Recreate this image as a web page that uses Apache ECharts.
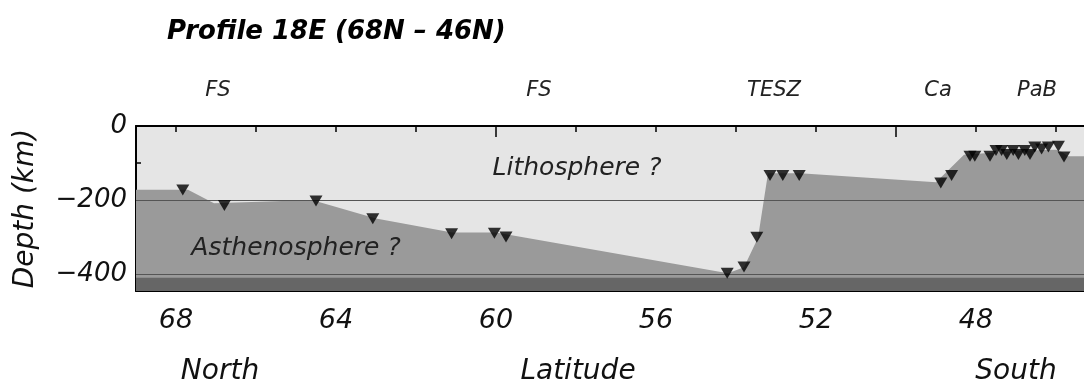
<!DOCTYPE html>
<html>
<head>
<meta charset="utf-8">
<script src="https://cdn.jsdelivr.net/npm/echarts@6/dist/echarts.min.js"></script>
<style>
html,body{margin:0;padding:0;background:#fff;}
#chart{width:1084px;height:390px;}
</style>
</head>
<body>
<div id="chart"></div>
<script>
// Lithosphere-asthenosphere boundary (latitude in degrees N, depth in km)
var boundaryLat   = [69, 67.7, 67.05, 64.6, 63.0, 61.1, 60.0, 54.2, 53.8, 53.45, 53.2, 52.4, 49.0, 48.3, 47.6, 46.8, 46.0, 45.85, 45.7, 45.3];
var boundaryDepth = [-172, -172, -209, -200, -250, -288, -288, -398, -382, -302, -128, -128, -152, -78, -72, -66, -64, -70, -82, -82];

// Stations (inverted triangles)
var stationLat   = [67.83, 66.79, 64.5, 63.08, 61.11, 60.04, 59.75, 54.22, 53.8, 53.48, 53.15, 52.83, 52.42, 48.88, 48.61, 48.15, 48.03, 47.65, 47.5, 47.36, 47.23, 47.07, 46.94, 46.78, 46.65, 46.53, 46.36, 46.19, 45.94, 45.8];
var stationDepth = [-173, -215, -203, -251, -291, -290, -300, -398, -381, -301, -134, -134, -134, -154, -134, -82, -82, -82, -66, -66, -77, -66, -77, -66, -77, -57, -62, -57, -55, -84];

// Axis ticks and labels
var xMinorTicks = [68, 66, 64, 62, 58, 56, 54, 52, 48, 46];
var xMajorTicks = [60, 50];
var xTickLabels = [68, 64, 60, 56, 52, 48];
var yTicks = [0, -100, -200, -300, -400];
var yTickLabels = [0, -200, -400];
var refDepths = [-200, -400];
var bandTop = -410;
var xMin = 45.3, xMax = 69, yMin = -446, yMax = 0;

// Text annotations
var titleText = 'Profile 18E (68N \u2013 46N)';
var regionNames = ['FS', 'FS', 'TESZ', 'Ca', 'PaB'];

var FONT = 'DejaVu Sans';
var chart = echarts.init(document.getElementById('chart'), null, {renderer: 'canvas'});

function xAxisDef(pos, ticks, len, withLine, withLabels) {
  return {
    type: 'value', min: xMin, max: xMax, inverse: true, position: pos,
    axisLine: {show: withLine, onZero: false, lineStyle: {color: '#000', width: 2}},
    axisTick: {show: true, inside: true, length: len, customValues: ticks, lineStyle: {color: '#000', width: 1.5}},
    axisLabel: withLabels ? {show: true, customValues: xTickLabels, margin: 16,
      fontFamily: FONT, fontStyle: 'italic', fontSize: 27, color: '#111'} : {show: false},
    splitLine: {show: false}
  };
}

function txt(text, x, y, size, opts) {
  opts = opts || {};
  return {
    type: 'text', x: x, y: y, z: 100,
    style: {
      text: text, textAlign: opts.align || 'center', textVerticalAlign: 'middle',
      fontStyle: 'italic', fontWeight: opts.weight || 'normal',
      fontSize: size, fontFamily: FONT,
      fill: opts.color || '#111'
    }
  };
}

var regionX = [218, 539, 774, 938, 1037];
var graphics = [
  txt(titleText, 167, 32, 26, {align: 'left', weight: 'bold', color: '#000'}),
  txt('North', 220, 372, 28),
  txt('Latitude', 578, 372, 28),
  txt('South', 1016, 372, 28),
  txt('Lithosphere ?', 577, 168, 25, {color: '#222'}),
  txt('Asthenosphere ?', 296, 248, 25, {color: '#222'})
];
regionNames.forEach(function (n, i) { graphics.push(txt(n, regionX[i], 91, 21, {color: '#222'})); });

var option = {
  animation: false,
  backgroundColor: '#fff',
  grid: {left: 136, right: 0, top: 126, bottom: 99, show: true, backgroundColor: '#e5e5e5', borderWidth: 0,
    containLabel: false, outerBoundsMode: 'none'},
  xAxis: [
    xAxisDef('bottom', xMinorTicks, 5, true, true),
    xAxisDef('bottom', xMajorTicks, 11, false, false),
    xAxisDef('top', xMinorTicks, 6, true, false),
    xAxisDef('top', xMajorTicks, 11, false, false)
  ],
  yAxis: {
    type: 'value', min: yMin, max: yMax,
    name: 'Depth (km)', nameLocation: 'middle', nameRotate: 90, nameGap: 96,
    nameTextStyle: {fontFamily: FONT, fontStyle: 'italic', fontSize: 28, color: '#111'},
    axisLine: {show: true, lineStyle: {color: '#000', width: 2}},
    axisTick: {show: true, inside: true, length: 5, customValues: yTicks, lineStyle: {color: '#000', width: 1.5}},
    axisLabel: {show: true, customValues: yTickLabels, margin: 9,
      fontFamily: FONT, fontStyle: 'italic', fontSize: 26, color: '#111',
      formatter: function (v) { return String(v).replace('-', '\u2212'); }},
    splitLine: {show: false}
  },
  series: [
    {
      type: 'line', name: 'boundary', z: 1,
      data: boundaryLat.map(function (x, i) { return [x, boundaryDepth[i]]; }),
      symbol: 'none', lineStyle: {width: 0},
      areaStyle: {color: '#9a9a9a', opacity: 1, origin: 'start'}
    },
    {
      type: 'line', name: 'band', z: 2,
      data: [[xMax, bandTop], [xMin, bandTop]],
      symbol: 'none', lineStyle: {width: 0},
      areaStyle: {color: '#666666', opacity: 1, origin: 'start'},
      markLine: {silent: true, symbol: 'none', label: {show: false},
        lineStyle: {color: '#555', width: 1, type: 'solid'},
        data: refDepths.map(function (d) { return {yAxis: d}; })}
    },
    {
      type: 'scatter', name: 'stations', z: 5,
      data: stationLat.map(function (x, i) { return [x, stationDepth[i]]; }),
      symbol: 'triangle', symbolRotate: 180, symbolSize: [13, 11],
      itemStyle: {color: '#000'}
    }
  ],
  graphic: graphics
};
chart.setOption(option);
</script>
</body>
</html>
